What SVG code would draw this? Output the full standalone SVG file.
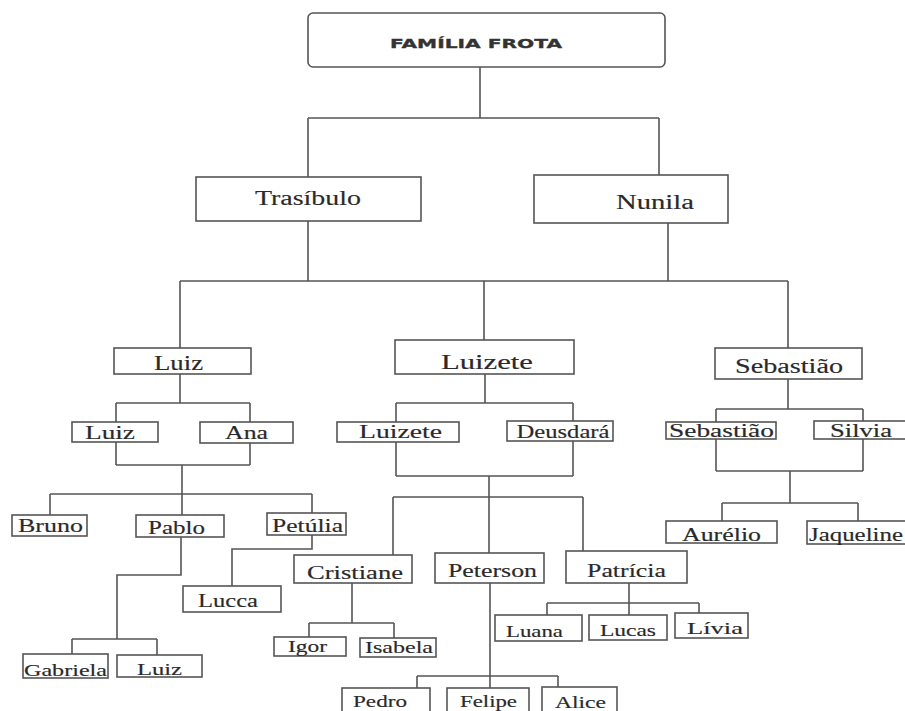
<svg xmlns="http://www.w3.org/2000/svg" width="905" height="711" viewBox="0 0 905 711">
<style>
rect{fill:#fff;stroke:#555;stroke-width:1.6}
text{font-family:"Liberation Serif","Times New Roman",serif;fill:#2a2a2a;stroke:#2a2a2a;stroke-width:0.15;text-anchor:middle}
.l{font-size:20px}
.m{font-size:18px}
.s{font-size:16px}
.t{font-family:"DejaVu Sans","Liberation Sans",sans-serif;font-weight:bold;font-size:12.5px;fill:#333;stroke:#333;stroke-width:0.3}
#connectors path{fill:none;stroke:#555;stroke-width:1.6}
</style>
<rect x="0" y="0" width="905" height="711" style="fill:#fff;stroke:none"/>
<g id="connectors">
<path d="M480,67V118M308,118H659M308,118V177M659,118V175"/>
<path d="M308,221V281M668,223V281M180,281H788M180,281V348M484,281V340M788,281V348"/>
<path d="M180,374V403M116,403H250M116,403V422M250,403V422M116,442V465M250,443V465M116,465H250M182,465V494M50,494H312M50,494V515M182,494V515M312,494V513"/>
<path d="M181,537V575H117V639M72,639H157M72,639V654M157,639V655"/>
<path d="M312,535V549H232V586"/>
<path d="M485,374V403M396,403H573M396,403V422M573,403V421M396,442V476M573,441V476M396,476H573M489,476V553M393,497H583M393,497V555M583,497V551"/>
<path d="M352,583V623M309,623H394M309,623V637M394,623V638"/>
<path d="M490,583V688M417,676H558M417,676V688M558,676V687"/>
<path d="M629,583V603M547,603H699M547,603V615M629,603V615M699,603V613"/>
<path d="M788,379V409M716,409H863M716,409V422M863,409V421M716,439V471M863,439V471M716,471H863M790,471V503M722,503H858M722,503V521M858,503V521"/>
</g>
<g id="familia-frota"><rect x="308" y="13" width="357" height="54" rx="5"/><text class="t" x="476" y="48" textLength="172" lengthAdjust="spacingAndGlyphs">FAMÍLIA FROTA</text></g>
<g id="trasibulo"><rect x="196" y="177" width="225" height="44"/><text class="l" x="308" y="205" textLength="106" lengthAdjust="spacingAndGlyphs">Trasíbulo</text></g>
<g id="nunila"><rect x="534" y="175" width="194" height="48"/><text class="l" x="655" y="209" textLength="78" lengthAdjust="spacingAndGlyphs">Nunila</text></g>
<g id="luiz1"><rect x="114" y="348" width="137" height="26"/><text class="l" x="178.5" y="370" textLength="49" lengthAdjust="spacingAndGlyphs">Luiz</text></g>
<g id="luizete1"><rect x="395" y="340" width="179" height="34"/><text class="l" x="487" y="369" textLength="92" lengthAdjust="spacingAndGlyphs">Luizete</text></g>
<g id="sebastiao1"><rect x="715" y="348" width="147" height="31"/><text class="l" x="789" y="373" textLength="108" lengthAdjust="spacingAndGlyphs">Sebastião</text></g>
<g id="luiz2"><rect x="72" y="422" width="86" height="20"/><text class="m" x="110" y="439" textLength="50" lengthAdjust="spacingAndGlyphs">Luiz</text></g>
<g id="ana"><rect x="200" y="422" width="93" height="21"/><text class="m" x="246.5" y="439" textLength="43" lengthAdjust="spacingAndGlyphs">Ana</text></g>
<g id="luizete2"><rect x="337" y="422" width="122" height="20"/><text class="m" x="400.5" y="438" textLength="83" lengthAdjust="spacingAndGlyphs">Luizete</text></g>
<g id="deusdara"><rect x="507" y="421" width="106" height="20"/><text class="m" x="563" y="438" textLength="93" lengthAdjust="spacingAndGlyphs">Deusdará</text></g>
<g id="sebastiao2"><rect x="666" y="422" width="110" height="17"/><text class="m" x="721.5" y="437" textLength="105" lengthAdjust="spacingAndGlyphs">Sebastião</text></g>
<g id="silvia"><rect x="814" y="421" width="95" height="18"/><text class="m" x="861" y="437" textLength="62" lengthAdjust="spacingAndGlyphs">Silvia</text></g>
<g id="bruno"><rect x="12" y="515" width="75" height="21"/><text class="m" x="50.5" y="532" textLength="65" lengthAdjust="spacingAndGlyphs">Bruno</text></g>
<g id="pablo"><rect x="136" y="515" width="88" height="22"/><text class="m" x="176.5" y="534" textLength="57" lengthAdjust="spacingAndGlyphs">Pablo</text></g>
<g id="petulia"><rect x="267" y="513" width="79" height="22"/><text class="m" x="307.5" y="532" textLength="71" lengthAdjust="spacingAndGlyphs">Petúlia</text></g>
<g id="cristiane"><rect x="294" y="555" width="118" height="28"/><text class="m" x="355" y="579" textLength="96" lengthAdjust="spacingAndGlyphs">Cristiane</text></g>
<g id="peterson"><rect x="435" y="553" width="109" height="30"/><text class="m" x="492.5" y="577" textLength="89" lengthAdjust="spacingAndGlyphs">Peterson</text></g>
<g id="patricia"><rect x="566" y="551" width="121" height="32"/><text class="m" x="626.5" y="577" textLength="79" lengthAdjust="spacingAndGlyphs">Patrícia</text></g>
<g id="aurelio"><rect x="666" y="521" width="111" height="22"/><text class="m" x="721.5" y="541" textLength="79" lengthAdjust="spacingAndGlyphs">Aurélio</text></g>
<g id="jaqueline"><rect x="807" y="521" width="105" height="23"/><text class="m" x="856" y="541" textLength="94" lengthAdjust="spacingAndGlyphs">Jaqueline</text></g>
<g id="lucca"><rect x="183" y="586" width="98" height="26"/><text class="m" x="228" y="607" textLength="60" lengthAdjust="spacingAndGlyphs">Lucca</text></g>
<g id="gabriela"><rect x="23" y="654" width="85" height="24"/><text class="s" x="65.5" y="676" textLength="83" lengthAdjust="spacingAndGlyphs">Gabriela</text></g>
<g id="luiz3"><rect x="117" y="655" width="85" height="22"/><text class="s" x="159.5" y="675" textLength="45" lengthAdjust="spacingAndGlyphs">Luiz</text></g>
<g id="igor"><rect x="274" y="637" width="72" height="19"/><text class="s" x="307.5" y="652" textLength="39" lengthAdjust="spacingAndGlyphs">Igor</text></g>
<g id="isabela"><rect x="360" y="638" width="76" height="19"/><text class="s" x="399" y="653" textLength="68" lengthAdjust="spacingAndGlyphs">Isabela</text></g>
<g id="luana"><rect x="495" y="615" width="87" height="26"/><text class="s" x="534.5" y="637" textLength="57" lengthAdjust="spacingAndGlyphs">Luana</text></g>
<g id="lucas"><rect x="589" y="615" width="78" height="25"/><text class="s" x="628" y="636" textLength="56" lengthAdjust="spacingAndGlyphs">Lucas</text></g>
<g id="livia"><rect x="675" y="613" width="73" height="25"/><text class="s" x="715" y="634" textLength="56" lengthAdjust="spacingAndGlyphs">Lívia</text></g>
<g id="pedro"><rect x="342" y="688" width="88" height="30"/><text class="s" x="380" y="707" textLength="54" lengthAdjust="spacingAndGlyphs">Pedro</text></g>
<g id="felipe"><rect x="447" y="688" width="82" height="30"/><text class="s" x="488.5" y="707" textLength="57" lengthAdjust="spacingAndGlyphs">Felipe</text></g>
<g id="alice"><rect x="542" y="687" width="75" height="30"/><text class="s" x="580.5" y="708" textLength="51" lengthAdjust="spacingAndGlyphs">Alice</text></g>
</svg>
